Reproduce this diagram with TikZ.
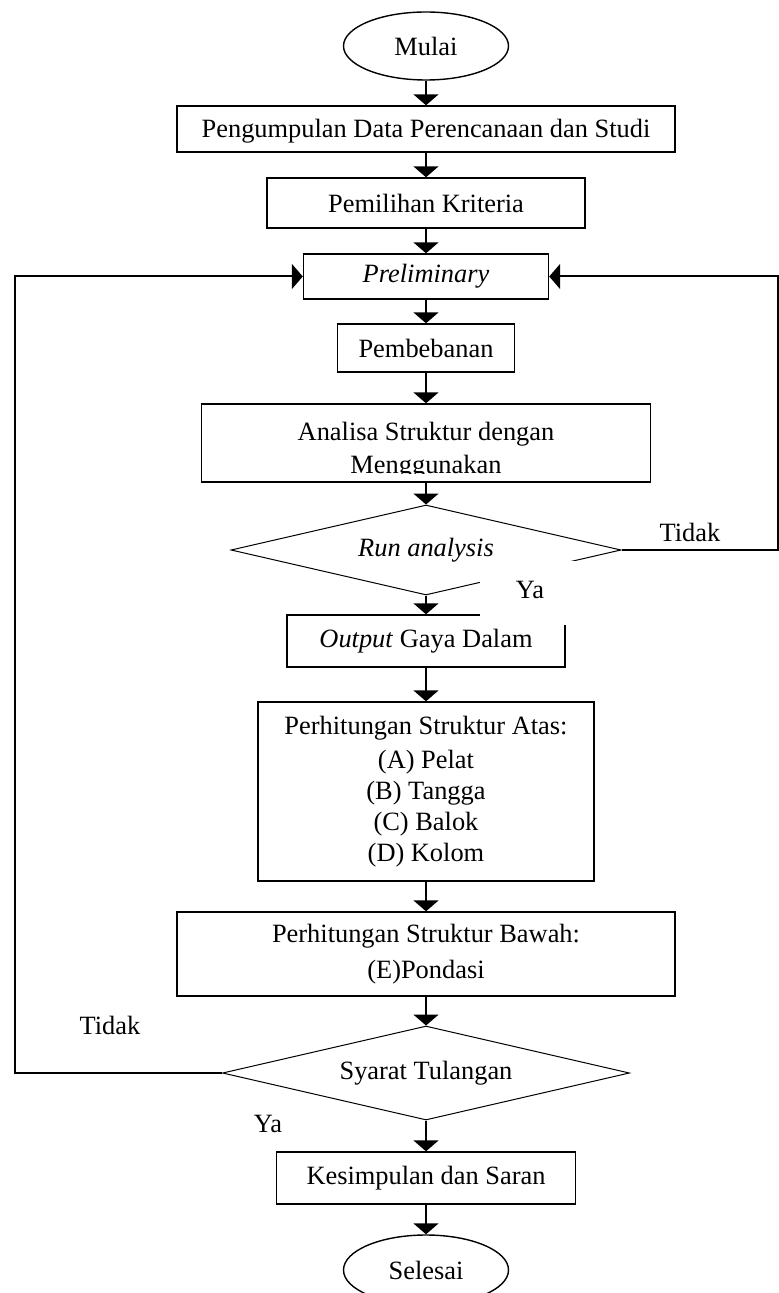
\documentclass[tikz,border=0pt]{standalone}
\usepackage{fontspec}
\setmainfont{Liberation Serif}
\usetikzlibrary{shapes.geometric,arrows.meta}
\begin{document}
\begin{tikzpicture}[x=0.5pt,y=-0.5pt,
      font=\fontsize{13.2}{15.5}\selectfont,
      kotak/.style={draw,line width=0.7pt,inner sep=0pt,align=center},
      ujung/.style={draw,ellipse,line width=0.7pt,inner sep=0pt},
      keputusan/.style={draw,diamond,aspect=4.3,line width=0.5pt,inner sep=0pt},
      panah/.style={line width=1pt,-{Triangle[width=12.5pt,length=5.5pt]}}]
            \clip (0,0) rectangle (779,1293);
            \coordinate (tepikiri) at (15,0);
            \coordinate (tepikanan) at (778,0);

            \node[ujung, minimum width=82.5pt, minimum height=34pt] (mulai) at (426,46) {Mulai};
            \node[kotak, minimum width=249pt, minimum height=23pt] (data) at (426,129) {\rule{0pt}{11pt}Pengumpulan Data Perencanaan dan Studi};
            \node[kotak, minimum width=159pt, minimum height=25pt] (kriteria) at (426,203) {Pemilihan Kriteria};
            \node[kotak, minimum width=122.5pt, minimum height=22.5pt] (prelim) at (426,276.5) {\itshape Preliminary};
            \node[kotak, minimum width=88.5pt, minimum height=24pt] (beban) at (426,348) {Pembebanan};
            \node[kotak, minimum width=224.5pt, minimum height=39pt] (analisa) at (426,443) {\rule{0pt}{17pt}Analisa Struktur dengan\\[1pt]Menggunakan};
            \node[keputusan, minimum width=195pt, minimum height=45pt] (run) at (426,550) {\itshape Run analysis};
            \node[kotak, minimum width=139pt, minimum height=26pt] (output) at (426,641) {\textit{Output} Gaya Dalam};
            \node[kotak, minimum width=168pt, minimum height=89.5pt] (atas) at (426,791.5) {Perhitungan Struktur Atas:\\[1.5pt](A) Pelat\\(B) Tangga\\(C) Balok\\(D) Kolom};
            \node[kotak, minimum width=249pt, minimum height=42pt] (bawah) at (426,954) {Perhitungan Struktur Bawah:\\[2.5pt](E)Pondasi};
            \node[keputusan, minimum width=203.5pt, minimum height=47pt] (syarat) at (426,1073) {Syarat Tulangan};
            \node[kotak, minimum width=149.5pt, minimum height=26pt] (simpul) at (426,1178) {Kesimpulan dan Saran};
            \node[ujung, minimum width=82.5pt, minimum height=35pt] (selesai) at (426,1270) {Selesai};

            % teks yang terpotong
            \fill[white] (180,143) rectangle (672,150.5);
            \fill[white] (205,474) rectangle (650,480.5);

            \draw[panah] (mulai) -- (data);
            \draw[panah] (data) -- (kriteria);
            \draw[panah] (kriteria) -- (prelim);
            \draw[panah] (prelim) -- (beban);
            \draw[panah] (beban) -- (analisa);
            \draw[panah] (analisa) -- (run);
            \draw[panah] (run) -- (output);
            \draw[panah] (output) -- (atas);
            \draw[panah] (atas) -- (bawah);
            \draw[panah] (bawah) -- (syarat);
            \draw[panah] (syarat) -- (simpul);
            \draw[panah] (simpul) -- (selesai);

            \draw[panah] (run.east) -- (run.east -| tepikanan) |- (prelim.east);
            \draw[panah] (syarat.west) -- (syarat.west -| tepikiri) |- (prelim.west);

            \fill[white] (480,561) rectangle (580,625);
            \node (ya1) at (530,590) {Ya};
            \node (tidak1) at (690,532) {Tidak};
            \node (tidak2) at (110,1025) {Tidak};
            \node (ya2) at (268,1124) {Ya};
\end{tikzpicture}
\end{document}
